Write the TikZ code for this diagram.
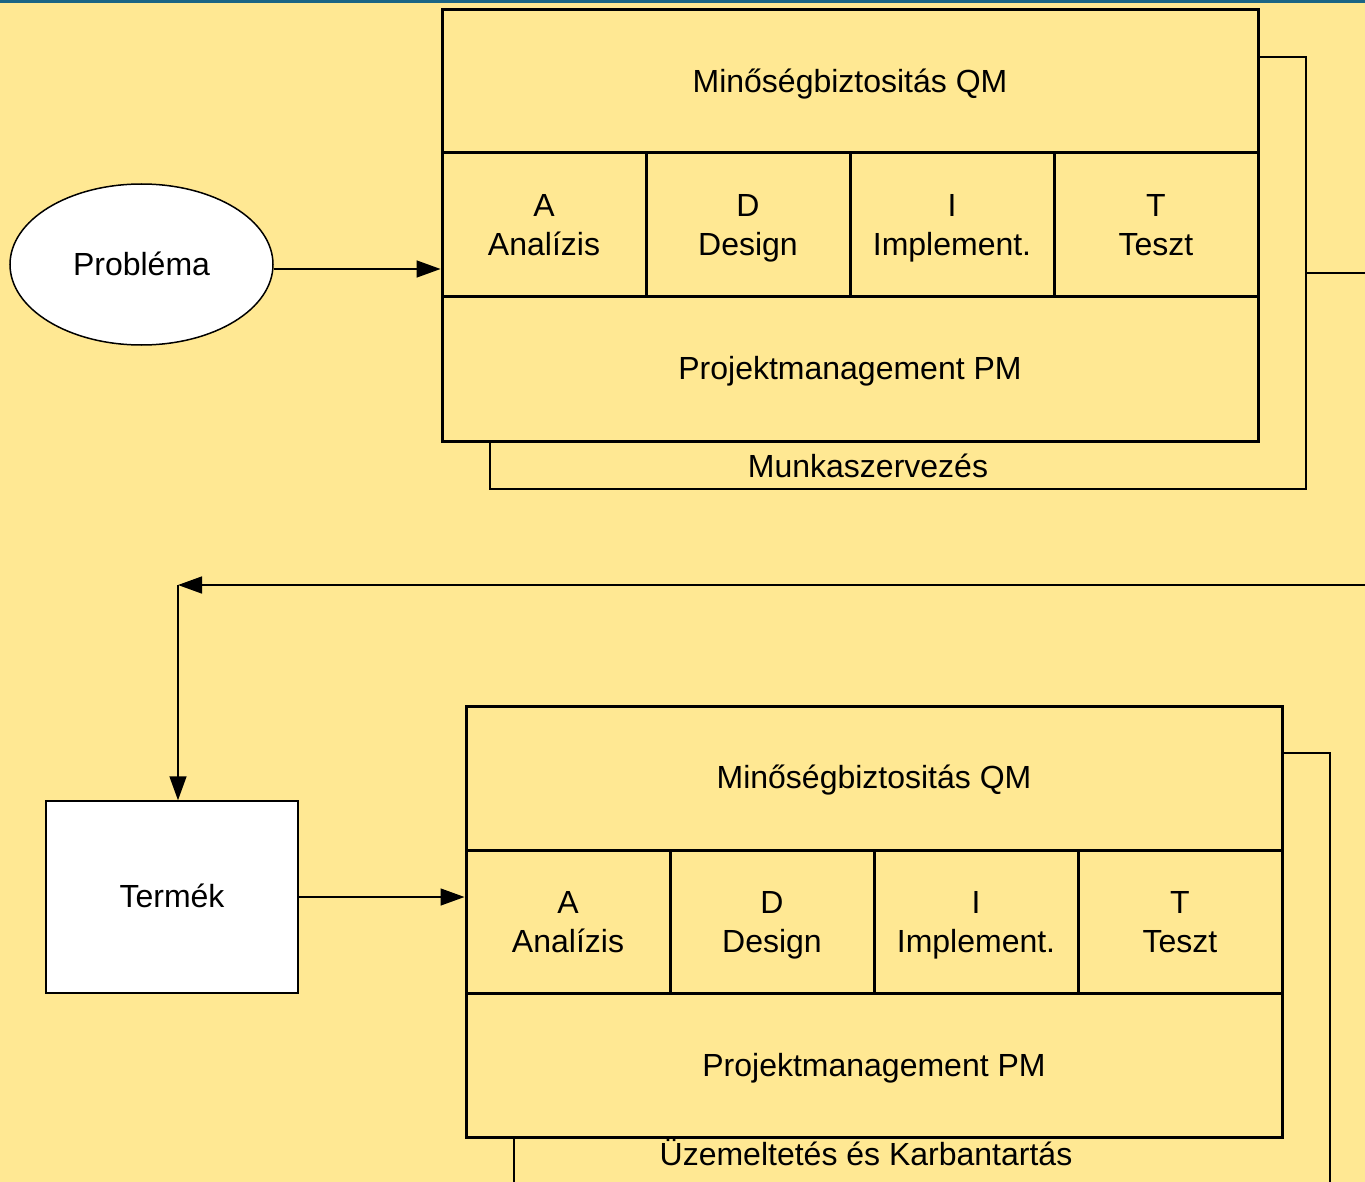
\documentclass[tikz,border=0pt]{standalone}
\usepackage{fontspec}
\setmainfont{Liberation Sans}
\usetikzlibrary{arrows.meta,shapes.geometric}
\definecolor{bg}{HTML}{FFE893}
\definecolor{topbar}{HTML}{1B6585}
\newcommand{\cs}{\rule[-8.7pt]{0pt}{39pt}}
\tikzset{
  cell/.style={draw=black,line width=3pt,fill=bg,inner sep=0pt,align=center,
    font=\fontsize{32}{39}\selectfont},
  backbox/.style={draw=black,line width=1.5pt,fill=bg,inner sep=0pt,
    minimum width=816pt,minimum height=432pt},
  whitebox/.style={draw=black,line width=1.5pt,fill=white,inner sep=0pt,
    font=\fontsize{32}{39}\selectfont},
  lbl/.style={inner sep=0pt,font=\fontsize{32}{39}\selectfont},
  arr/.style={draw=black,line width=1.5pt,-{Triangle[length=24pt,width=17pt]}},
  conn/.style={draw=black,line width=1.5pt}
}
\begin{document}
\begin{tikzpicture}[x=1pt,y=-1pt]
\clip (0,0) rectangle (1365,1182);
\fill[bg] (0,0) rectangle (1365,1182);
\fill[topbar] (0,0) rectangle (1365,3.5);

% ---------- upper block ----------
\node[backbox] (mk1) at (898,273) {};
\node[lbl,anchor=base] (mk1t) at (868,477) {Munkaszervezés};
\node[cell,minimum width=816pt,minimum height=143pt] (qm1) at (850,81.5) {\cs Minőségbiztositás QM};
\node[cell,minimum width=204pt,minimum height=144pt] (a1) at (544,225) {\cs A\\\cs Analízis};
\node[cell,minimum width=204pt,minimum height=144pt] (d1) at (748,225) {\cs D\\\cs Design};
\node[cell,minimum width=204pt,minimum height=144pt] (i1) at (952,225) {\cs I\\\cs Implement.};
\node[cell,minimum width=204pt,minimum height=144pt] (t1) at (1156,225) {\cs T\\\cs Teszt};
\node[cell,minimum width=816pt,minimum height=144pt] (pm1) at (850,369) {\cs Projektmanagement PM};

% ---------- lower block ----------
\node[backbox] (uk2) at (922,969) {};
\node[lbl,anchor=base] (uk2t) at (866,1165) {Üzemeltetés és Karbantartás};
\node[cell,minimum width=816pt,minimum height=144pt] (qm2) at (874,778) {\cs Minőségbiztositás QM};
\node[cell,minimum width=204pt,minimum height=144pt] (a2) at (568,922) {\cs A\\\cs Analízis};
\node[cell,minimum width=204pt,minimum height=144pt] (d2) at (772,922) {\cs D\\\cs Design};
\node[cell,minimum width=204pt,minimum height=144pt] (i2) at (976,922) {\cs I\\\cs Implement.};
\node[cell,minimum width=204pt,minimum height=144pt] (t2) at (1180,922) {\cs T\\\cs Teszt};
\node[cell,minimum width=816pt,minimum height=144pt] (pm2) at (874,1065.5) {\cs Projektmanagement PM};

% ---------- start / product ----------
\node[whitebox,ellipse,minimum width=263pt,minimum height=161pt] (prob) at (141.5,264.5) {\cs Probléma};
\node[whitebox,minimum width=252pt,minimum height=192pt] (term) at (172,897) {\cs Termék};

% ---------- connectors ----------
\coordinate (pa) at ([yshift=-4.5pt]prob.east);
\draw[arr] (pa) -- (pa -| qm1.west);
\coordinate (rout) at (1380,273);
\draw[conn] (mk1.east) -- (rout);
\coordinate (rin) at (1380,585);
\coordinate (corner) at (178,585);
\draw[arr] (rin) -- (corner);
\draw[arr] (corner) -- (corner |- term.north);
\draw[arr] (term.east) -- (term.east -| qm2.west);
\end{tikzpicture}
\end{document}
